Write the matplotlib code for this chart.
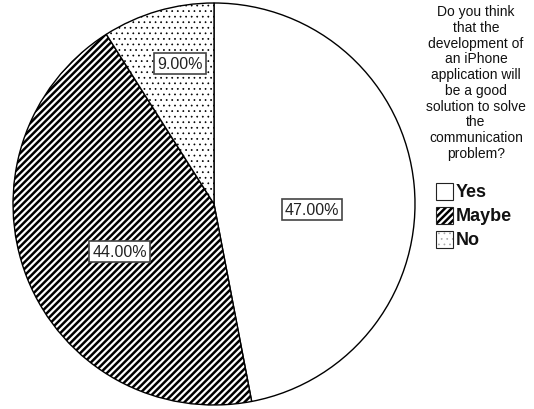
import numpy as np
import matplotlib
matplotlib.use("Agg")
import matplotlib.pyplot as plt
from matplotlib.patches import Rectangle
from matplotlib.colors import to_rgba

plt.rcParams['font.family'] = ['Liberation Sans', 'DejaVu Sans']
plt.rcParams['hatch.linewidth'] = 1.8

categories = ["Yes", "Maybe", "No"]
values = [47.0, 44.0, 9.0]
hatches = [None, "/////", "..."]
hatch_colors = ["black", "black", "#aaaaaa"]
hatch_lw = [1.0, 1.8, 0.5]
# label layout: (radius fraction, angle offset from wedge middle in degrees)
label_layout = [(0.49, -8.4), (0.525, 5.0), (0.72, -2.6)]
legend_title = ("Do you think\nthat the\ndevelopment of\nan iPhone\napplication will\n"
                "be a good\nsolution to solve\nthe\ncommunication\nproblem?")

W, H = 534, 410
fig = plt.figure(figsize=(W / 100, H / 100), dpi=100)
cx, cy, R = 214, 205, 201
ax = fig.add_axes([(cx - R) / W, (H - cy - R) / H, 2 * R / W, 2 * R / H])

wedges, _ = ax.pie(values, startangle=90, counterclock=False, radius=1.0,
                   colors=["white"] * 3,
                   wedgeprops=dict(edgecolor="black", linewidth=1.0))
ax.set_xlim(-1, 1)
ax.set_ylim(-1, 1)
ax.set_aspect('equal')
ax.axis('off')

for w, h, hc, hl in zip(wedges, hatches, hatch_colors, hatch_lw):
    if h:
        w.set_hatch(h)
        w._hatch_color = to_rgba(hc)
        if hasattr(w, "set_hatch_linewidth"):
            w.set_hatch_linewidth(hl)
        w.set_edgecolor("black")

for w, v, (d, off) in zip(wedges, values, label_layout):
    ang = np.deg2rad((w.theta1 + w.theta2) / 2 + off)
    ax.text(d * np.cos(ang), d * np.sin(ang), f"{v:.2f}%", ha="center", va="center",
            fontsize=11.5, color="#222222",
            bbox=dict(boxstyle="square,pad=0.18", fc="white", ec="#444444", lw=1.2))

# legend title
fig.text(476 / W, 1 - 5 / H, legend_title, ha="center", va="top", fontsize=10,
         color="#111111", linespacing=1.16, multialignment="center")

# legend entries
for i, (c, h, hc, hl) in enumerate(zip(categories, hatches, hatch_colors, hatch_lw)):
    yc = 192 + 24 * i
    x0 = 436
    rect = Rectangle((x0 / W, 1 - (yc + 8.5) / H), 17 / W, 17 / H,
                     transform=fig.transFigure, facecolor="white",
                     edgecolor="#222222", lw=0.8)
    if h:
        rect.set_hatch(h)
        rect._hatch_color = to_rgba(hc)
        if hasattr(rect, "set_hatch_linewidth"):
            rect.set_hatch_linewidth(hl)
    fig.add_artist(rect)
    fig.text(456 / W, 1 - (yc + 1) / H, c, ha="left", va="center", fontsize=13,
             fontweight="bold", color="#111111")

fig.savefig("out.png", dpi=100)
